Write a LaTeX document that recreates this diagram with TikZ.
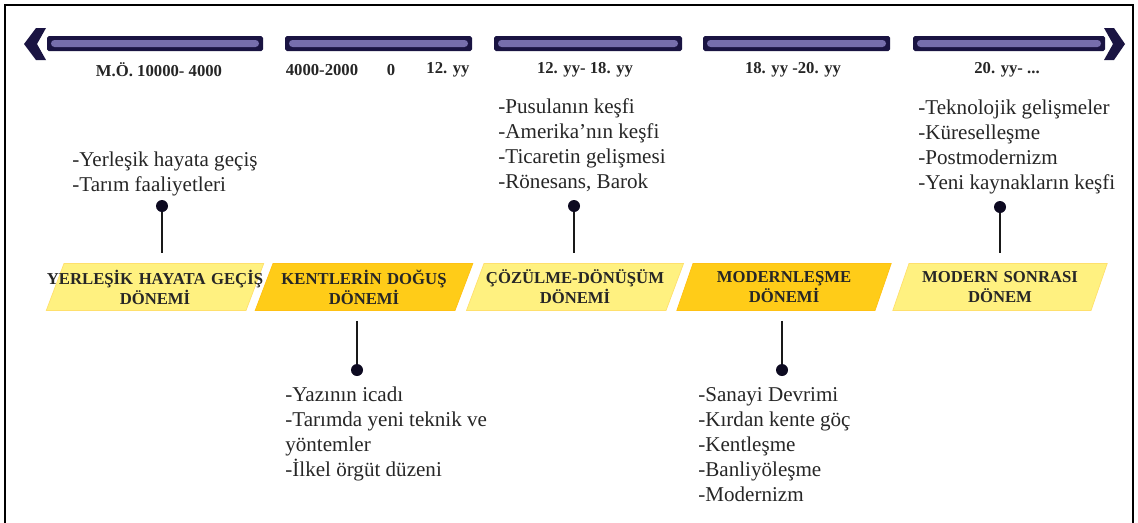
\documentclass[tikz,border=0pt]{standalone}
\usepackage{fontspec}
\setmainfont{Liberation Serif}
\usetikzlibrary{positioning, shapes.geometric}
\definecolor{barnavy}{RGB}{26,20,66}
\definecolor{barlav}{RGB}{118,110,172}
\definecolor{paleyel}{RGB}{255,241,128}
\definecolor{goldyel}{RGB}{255,204,24}
\tikzset{
x=0.02cm, y=-0.02cm, % one unit is one pixel of the layout
bar/.style={fill=barnavy, rounded corners=1pt}, % dark outer bar of the time line
barglow/.style={fill=barlav, rounded corners=2pt}, % light band inside each bar
era/.style={trapezium, trapezium left angle=65, trapezium right angle=115,
  trapezium stretches=true, minimum height=0.94cm, text width=4.4cm,
  align=center, inner xsep=-10.8pt, inner ysep=1pt, text=black!85,
  font=\fontsize{9.5}{11.4}\selectfont\bfseries}, % slanted period box
pale/.style={era, fill=paleyel, draw=paleyel!85!orange},
gold/.style={era, fill=goldyel, draw=goldyel!85!orange},
date/.style={font=\fontsize{9.5}{11}\selectfont\bfseries, text=black!85},
item/.style={align=left, inner sep=0pt, text=black!85,
  font=\fontsize{12}{14.2}\selectfont}, % list of events
pin/.style={circle, fill=barnavy!50!black, minimum size=0.24cm, inner sep=0pt},
stem/.style={line width=1.4pt, draw=black!90},
}
\begin{document}
\begin{tikzpicture}
\useasboundingbox (0,0) rectangle (1138,522);
% frame
\draw[line width=1.2pt] (5,540) -- (5,5) -- (1133,5) -- (1133,540);

% time line
\foreach \a/\b in {47/263, 285/472, 494/682, 703/890, 913/1105}{
  \fill[bar] (\a,36) rectangle (\b,51);
  \fill[barglow] (\a+4,40) rectangle (\b-4,47);
}
\fill[barnavy] (36,28) -- (24,44) -- (36,60) -- (46,60) -- (37,44) -- (46,28) -- cycle;
\fill[barnavy] (1104,28) -- (1114,28) -- (1125,44) -- (1114,60) -- (1104,60) -- (1113,44) -- cycle;

% dates
\node[date] (d1) at (159,70) {M.Ö. 10000- 4000};
\node[date] (d2) at (322,70) {4000-2000};
\node[date] (d3) at (391,70) {0};
\node[date] (d4) at (448,70) {12. yy};
\node[date] (d5) at (585,70) {12. yy- 18. yy};
\node[date] (d6) at (793,70) {18. yy -20. yy};
\node[date] (d7) at (1007,70) {20. yy- ...};

% periods
\node[pale] (yerlesik) at (155,287) {YERLEŞİK HAYATA GEÇİŞ\\DÖNEMİ};
\node[gold] (kent) at (364,287) {KENTLERİN DOĞUŞ\\DÖNEMİ};
\node[pale] (cozulme) at (575,287) {ÇÖZÜLME-DÖNÜŞÜM\\DÖNEMİ};
\node[gold] (modern) at (784,287) {MODERNLEŞME\\DÖNEMİ};
\node[pale] (sonrasi) at (1000,287) {MODERN SONRASI\\DÖNEM};

% pins
\node[pin] (p1) at (162,206) {};
\node[pin] (p2) at (357,370) {};
\node[pin] (p3) at (574,206) {};
\node[pin] (p4) at (782,370) {};
\node[pin] (p5) at (1000,207) {};
\draw[stem, shorten >=0.2cm] (p1) -- (p1 |- yerlesik.north);
\draw[stem, shorten <=0.2cm] (p2 |- kent.south) -- (p2);
\draw[stem, shorten >=0.2cm] (p3) -- (p3 |- cozulme.north);
\draw[stem, shorten <=0.2cm] (p4 |- modern.south) -- (p4);
\draw[stem, shorten >=0.2cm] (p5) -- (p5 |- sonrasi.north);

% events
\node[item, anchor=north west] (e1) at (72,152)
  {-Yerleşik hayata geçiş\\-Tarım faaliyetleri};
\node[item, anchor=north west] (e2) at (285,387)
  {-Yazının icadı\\-Tarımda yeni teknik ve\\yöntemler\\-İlkel örgüt düzeni};
\node[item, anchor=north west] (e3) at (498,98)
  {-Pusulanın keşfi\\-Amerika’nın keşfi\\-Ticaretin gelişmesi\\-Rönesans, Barok};
\node[item, anchor=north west] (e4) at (698,387)
  {-Sanayi Devrimi\\-Kırdan kente göç\\-Kentleşme\\-Banliyöleşme\\-Modernizm};
\node[item, anchor=north west] (e5) at (918,100)
  {-Teknolojik gelişmeler\\-Küreselleşme\\-Postmodernizm\\-Yeni kaynakların keşfi};
\end{tikzpicture}
\end{document}
